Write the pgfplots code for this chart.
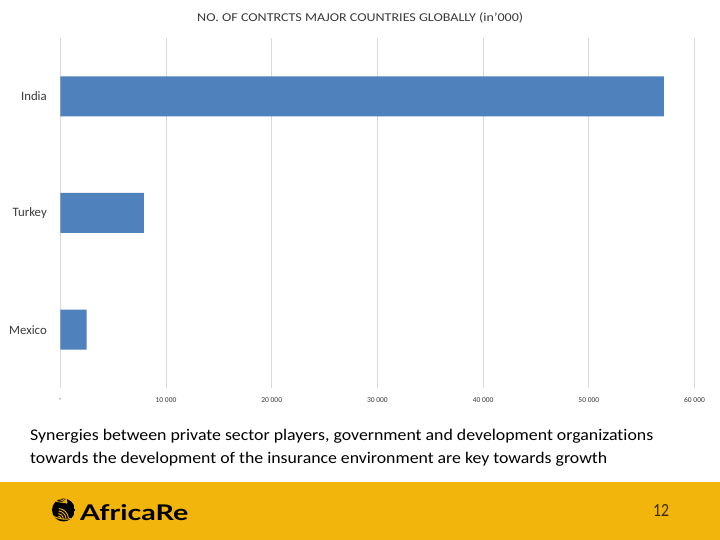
\documentclass[border=0pt]{standalone}
\usepackage{fontspec}
\setmainfont{Carlito}[Ligatures=NoCommon]
\newfontfamily\logofont{Lato}
\usepackage{graphicx}
\usepackage{pgfplots}
\pgfplotsset{compat=1.18}

\definecolor{barblue}{HTML}{4F81BD}
\definecolor{band}{HTML}{F2B50C}
\definecolor{txtgray}{HTML}{3A3A3A}
\definecolor{gridgray}{HTML}{D9D9D9}
\definecolor{pagenum}{HTML}{3A2A12}

\begin{document}
\begin{tikzpicture}[x=1pt,y=1pt]
  % slide canvas
  \path[use as bounding box] (0,0) rectangle (720,540);
  \fill[white] (0,0) rectangle (720,540);
  \fill[band] (0,0) rectangle (720,58);

  % chart title
  \node[anchor=base west, inner sep=0pt, text=txtgray] at (197,518.3)
    {\resizebox{326pt}{\height}{\fontsize{12}{14}\selectfont NO. OF CONTRCTS MAJOR COUNTRIES GLOBALLY (in'000)}};

  \begin{axis}[
    at={(60.3pt,152pt)}, anchor=south west,
    scale only axis, width=634.2pt, height=350pt,
    xbar, bar width=40pt,
    xmin=0, xmax=60000, ymin=-0.5, ymax=2.5,
    axis line style={draw=none},
    xmajorgrids, major grid style={gridgray, line width=0.8pt},
    scaled x ticks=false,
    xtick={0,10000,20000,30000,40000,50000,60000},
    xticklabels={-,10 000,20 000,30 000,40 000,50 000,60 000},
    ytick={0,1,2},
    yticklabels={Mexico,Turkey,India},
    major tick length=0pt,
    /pgf/number format/assume math mode=true,
    xticklabel style={font=\fontsize{7.5}{7.5}\selectfont, text=txtgray, anchor=center, yshift=-12pt},
    yticklabel style={font=\fontsize{12.8}{14}\selectfont, text=txtgray, anchor=east, inner sep=0pt, xshift=-13.3pt},
    clip=false,
  ]
    \addplot[fill=barblue, draw=none] coordinates {(2500,0) (7900,1) (57100,2)};
  \end{axis}

  % comment line below the chart
  \node[anchor=base west, inner sep=0pt, text=black] at (30,99)
    {\resizebox{623pt}{\height}{\fontsize{16.3}{20}\selectfont Synergies between private sector players, government and development organizations}};
  \node[anchor=base west, inner sep=0pt, text=black] at (30,76)
    {\resizebox{577pt}{\height}{\fontsize{16.3}{20}\selectfont towards the development of the insurance environment are key towards growth}};

  % logo mark: striped round head
  \begin{scope}
    \clip (63.5,30) circle (11.5);
    \fill[black] (63.5,30) circle (11.5);
    \foreach \r in {3,5.5,8,10.5} {
      \draw[band, line width=0.9] (58,21) ++(85:\r) arc (85:5:\r);
    }
    \foreach \a in {100,118,136,154,172} {
      \draw[band, line width=0.8] (67,37) -- ++(\a:15);
    }
    \draw[band, line width=1] (51,25) .. controls (58,21) and (66,19) .. (76,23);
  \end{scope}
  \node[anchor=base west, inner sep=0pt, text=black] at (80,19)
    {\resizebox{108pt}{16pt}{\logofont\bfseries AfricaRe}};

  % page number
  \node[anchor=base west, inner sep=0pt, text=pagenum] at (653,23.3)
    {\resizebox{16pt}{\height}{\fontsize{18.5}{20}\selectfont 12}};
\end{tikzpicture}
\end{document}
